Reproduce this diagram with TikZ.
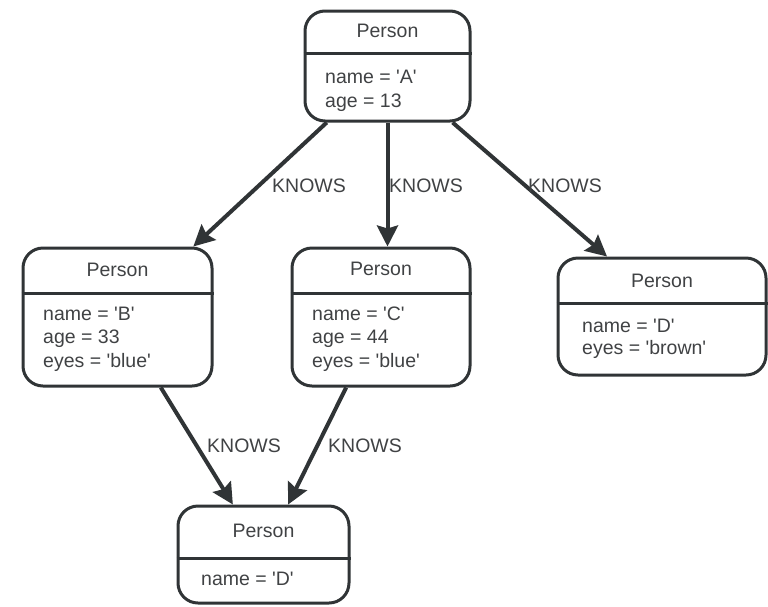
\documentclass[tikz,border=0pt]{standalone}
\usepackage{fontspec}
\setmainfont{Liberation Sans}[Ligatures=TeXOff]
\usetikzlibrary{arrows.meta,calc}

\definecolor{inkline}{RGB}{48,52,54}
\definecolor{inktext}{RGB}{64,66,68}

\tikzset{
  pbox/.style={draw=inkline, line width=3pt, rounded corners=20pt, inner sep=0pt},
  divider/.style={draw=inkline, line width=3pt},
  txt/.style={text=inktext, font=\fontsize{19.5}{23}\selectfont, inner sep=0pt},
  head/.style={txt, anchor=base},
  prop/.style={txt, anchor=base west},
  rel/.style={draw=inkline, line width=4pt, -{Stealth[length=21pt,width=21pt,inset=3pt]}},
  lbl/.style={txt, anchor=base west},
}

\begin{document}
\begin{tikzpicture}[x=1pt, y=-1pt]
  \useasboundingbox (0,0) rectangle (768,606);

  % Person A
  \node[pbox, minimum width=165pt, minimum height=110pt] (a) at (387.5,66) {};
  \draw[divider] (a.west |- 0,53) -- (a.east |- 0,53);
  \node[head] (ah) at (387.5,37) {Person};
  \node[prop] (a1) at (325,83) {name = 'A'};
  \node[prop] (a2) at (325,107) {age = 13};

  % Person B
  \node[pbox, minimum width=189pt, minimum height=138pt] (b) at (117.5,317) {};
  \draw[divider] (b.west |- 0,293) -- (b.east |- 0,293);
  \node[head] (bh) at (117.5,276) {Person};
  \node[prop] (b1) at (43,320) {name = 'B'};
  \node[prop] (b2) at (43,343.5) {age = 33};
  \node[prop] (b3) at (43,367) {eyes = 'blue'};

  % Person C
  \node[pbox, minimum width=178pt, minimum height=138pt] (c) at (381,317) {};
  \draw[divider] (c.west |- 0,293) -- (c.east |- 0,293);
  \node[head] (ch) at (381,275) {Person};
  \node[prop] (c1) at (312,320) {name = 'C'};
  \node[prop] (c2) at (312,343.5) {age = 44};
  \node[prop] (c3) at (312,367) {eyes = 'blue'};

  % Person D (right)
  \node[pbox, minimum width=208pt, minimum height=117pt] (d) at (662,316.5) {};
  \draw[divider] (d.west |- 0,303) -- (d.east |- 0,303);
  \node[head] (dh) at (662,287) {Person};
  \node[prop] (d1) at (582,332) {name = 'D'};
  \node[prop] (d2) at (582,354) {eyes = 'brown'};

  % Person D (bottom)
  \node[pbox, minimum width=171pt, minimum height=97pt] (e) at (263.5,554.5) {};
  \draw[divider] (e.west |- 0,558) -- (e.east |- 0,558);
  \node[head] (eh) at (263.5,537) {Person};
  \node[prop] (e1) at (201,585) {name = 'D'};

  % KNOWS relationships
  \draw[rel] (a) -- (b);
  \draw[rel] (a.south) -- (a.south |- c.north);
  \draw[rel] (a) -- ($(d.north)+(-55,0)$);
  \draw[rel] (b) -- (e);
  \draw[rel] (c) -- (e);

  \node[lbl] (l1) at (272,192) {KNOWS};
  \node[lbl] (l2) at (389,192) {KNOWS};
  \node[lbl] (l3) at (528,192) {KNOWS};
  \node[lbl] (l4) at (207,452) {KNOWS};
  \node[lbl] (l5) at (328,452) {KNOWS};
\end{tikzpicture}
\end{document}
